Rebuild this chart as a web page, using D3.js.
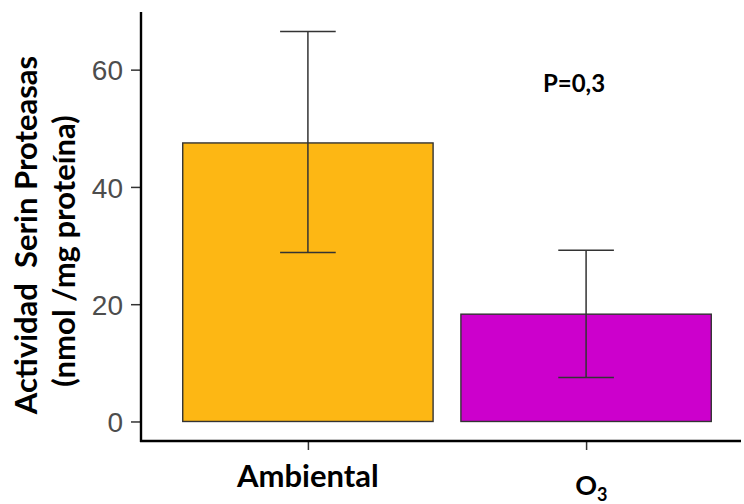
<!DOCTYPE html>
<html>
<head>
<meta charset="utf-8">
<script src="https://cdn.jsdelivr.net/npm/d3@7"></script>
<style>
  body { margin: 0; background: #fff; }
  .lbl { font-family: Lato, "Open Sans", sans-serif; font-weight: 700; fill: #000; }
  .tick text { font-family: "Liberation Sans", Arial, sans-serif; fill: #4d4d4d; }
</style>
</head>
<body>
<script>
const categories = ['Ambiental', 'O3'];
const means = [47.5, 18.3];
const lower = [28.8, 7.5];
const upper = [66.5, 29.2];
const colors = ['#FDB714', '#CC00CC'];
const yTicks = [0, 20, 40, 60];

const width = 744, height = 504;
const svg = d3.select('body').append('svg')
  .attr('width', width).attr('height', height);

const x = d3.scalePoint().domain(categories).range([141, 753]).padding(0.6);
const step = x.step();
const y = d3.scaleLinear().domain([-3.33, 69.83]).range([441, 12]);

// bars
svg.selectAll('.bar').data(categories).enter().append('rect')
  .attr('class', 'bar')
  .attr('x', d => x(d) - step * 0.45)
  .attr('width', step * 0.9)
  .attr('y', (d, i) => y(means[i]))
  .attr('height', (d, i) => y(0) - y(means[i]))
  .attr('fill', (d, i) => colors[i])
  .attr('stroke', '#333')
  .attr('stroke-width', 1.4);

// error bars
const eb = svg.selectAll('.err').data(categories).enter().append('g')
  .attr('class', 'err')
  .attr('stroke', '#333')
  .attr('stroke-width', 1.5);
eb.append('line')
  .attr('x1', d => x(d)).attr('x2', d => x(d))
  .attr('y1', (d, i) => y(lower[i])).attr('y2', (d, i) => y(upper[i]));
eb.append('line')
  .attr('x1', d => x(d) - step * 0.1).attr('x2', d => x(d) + step * 0.1)
  .attr('y1', (d, i) => y(upper[i])).attr('y2', (d, i) => y(upper[i]));
eb.append('line')
  .attr('x1', d => x(d) - step * 0.1).attr('x2', d => x(d) + step * 0.1)
  .attr('y1', (d, i) => y(lower[i])).attr('y2', (d, i) => y(lower[i]));

// y axis
const yAxis = svg.append('g')
  .attr('transform', 'translate(141,0)')
  .call(d3.axisLeft(y).tickValues(yTicks).tickSize(10).tickPadding(8));
yAxis.select('.domain').remove();
yAxis.append('line').attr('x1', 0).attr('x2', 0).attr('y1', 12).attr('y2', 442)
  .attr('stroke', '#000').attr('stroke-width', 2.4);
yAxis.selectAll('.tick line').attr('stroke', '#333').attr('stroke-width', 1.5);
yAxis.selectAll('.tick text').attr('font-size', 28).attr('dy', '0.36em');

// x axis
const xAxis = svg.append('g')
  .attr('transform', 'translate(0,441)')
  .call(d3.axisBottom(x).tickSize(9).tickFormat(''));
xAxis.select('.domain').remove();
xAxis.append('line').attr('x1', 140).attr('x2', 741).attr('y1', 0).attr('y2', 0)
  .attr('stroke', '#000').attr('stroke-width', 2.4);
xAxis.selectAll('.tick line').attr('stroke', '#333').attr('stroke-width', 1.5);

// category labels
svg.append('text').attr('class', 'lbl')
  .attr('x', x('Ambiental')).attr('y', 487)
  .attr('text-anchor', 'middle').attr('font-size', 31)
  .text('Ambiental');
svg.append('text').attr('class', 'lbl')
  .attr('x', x('O3')).attr('y', 495)
  .attr('text-anchor', 'middle').attr('font-size', 27)
  .text('O');
svg.append('text').attr('class', 'lbl')
  .attr('x', x('O3') + 11).attr('y', 501)
  .attr('font-size', 18)
  .text('3');

// y axis title
const yt = svg.append('g').attr('class', 'lbl')
  .attr('transform', 'rotate(-90)');
yt.append('text').attr('x', -235).attr('y', 37)
  .attr('text-anchor', 'middle').attr('font-size', 31)
  .attr('xml:space', 'preserve').style('white-space', 'pre')
  .text('Actividad  Serin Proteasas');
yt.append('text').attr('x', -251).attr('y', 75)
  .attr('text-anchor', 'middle').attr('font-size', 31)
  .text('(nmol /mg proteína)');

// annotation
svg.append('text').attr('class', 'lbl')
  .attr('x', 574).attr('y', 92)
  .attr('text-anchor', 'middle').attr('font-size', 24)
  .text('P=0,3');
</script>
</body>
</html>
